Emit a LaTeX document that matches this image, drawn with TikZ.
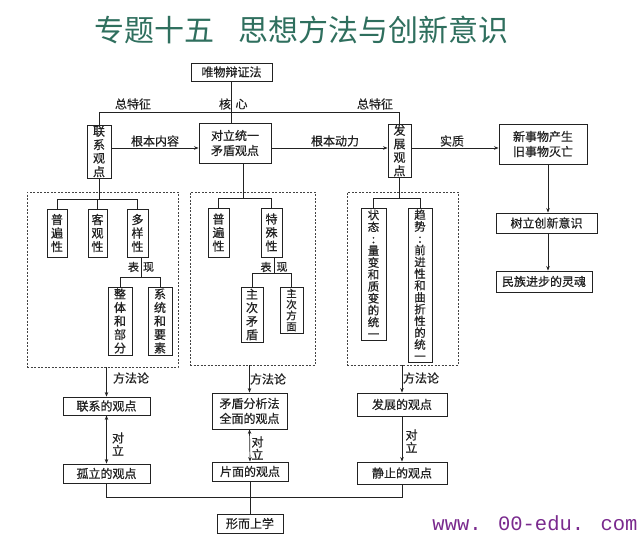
\documentclass[tikz,border=0pt]{standalone}
\usepackage{fontspec}
\newfontfamily\cjk[FakeBold=0.6]{Noto Sans CJK SC}
\newfontfamily\cjktitle{Noto Sans CJK SC}
\newfontfamily\wm{Liberation Mono}
\usetikzlibrary{arrows.meta}
\definecolor{titlegreen}{HTML}{2F6F5E}
\definecolor{wmpurple}{HTML}{7A2A8E}
\definecolor{ink}{HTML}{222222}
\begin{document}
\begin{tikzpicture}[x=1pt,y=-1pt,
  box/.style={draw=ink, line width=0.9pt, inner sep=0pt, align=center, text=ink,
              font=\cjk\fontsize{12}{15}\selectfont},
  vbox/.style={box, font=\cjk\fontsize{12}{13.5}\selectfont},
  lbl/.style={font=\cjk\fontsize{12}{13}\selectfont, text=ink, inner sep=0pt, align=center},
  conn/.style={draw=ink, line width=0.7pt},
  arr/.style={conn, -{Stealth[length=4.5pt,width=3.5pt]}},
  darr/.style={conn, {Stealth[length=4.5pt,width=3.5pt]}-{Stealth[length=4.5pt,width=3.5pt]}},
  dbox/.style={draw=ink!85, line width=0.7pt, dash pattern=on 2pt off 1.5pt, inner sep=0pt}
]
\useasboundingbox[fill=white] (0,0) rectangle (640,538);

% title
\node[font=\cjktitle\fontsize{30}{31}\selectfont, text=titlegreen, inner sep=0pt] (title) at (301.5,30)
  {专题十五\hspace{25pt}思想方法与创新意识};

% top row
\node[box, minimum width=81pt, minimum height=18pt] (fz) at (231.5,72) {唯物辩证法};
\node[vbox, minimum width=24pt, minimum height=53pt] (lx) at (99,151.5) {联\\系\\观\\点};
\node[box, minimum width=72pt, minimum height=40pt] (dl) at (235,143) {对立统一\\矛盾观点};
\node[vbox, minimum width=23pt, minimum height=53pt] (fzg) at (399.5,150.5) {发\\展\\观\\点};
\node[box, minimum width=88pt, minimum height=40pt] (xsw) at (543,144) {新事物产生\\旧事物灭亡};
\node[box, minimum width=101pt, minimum height=20pt] (sl) at (546.5,223) {树立创新意识};
\node[box, minimum width=96pt, minimum height=21pt] (mz) at (544,281.5) {民族进步的灵魂};

% top connectors
\coordinate (ztl) at (99,112);
\coordinate (ha) at (0,148);
\coordinate (xa) at (548,0);
\draw[conn] (lx.north) -- (lx.north |- ztl) -- (fzg.north |- ztl) -- (fzg.north);
\draw[conn] (fz.south) -- (fz.south |- dl.north);
\draw[arr] (lx.east |- ha) -- (dl.west |- ha);
\draw[arr] (dl.east |- ha) -- (fzg.west |- ha);
\draw[arr] (fzg.east |- ha) -- (xsw.west |- ha);
\draw[arr] (xsw.south -| xa) -- (sl.north -| xa);
\draw[arr] (sl.south -| xa) -- (mz.north -| xa);

\node[lbl] (l1) at (133,104) {总特征};
\node[lbl] (l2a) at (225,104) {核};
\node[lbl] (l2b) at (241.5,104) {心};
\node[lbl] (l3) at (375,104) {总特征};
\node[lbl] (l4) at (155,141) {根本内容};
\node[lbl] (l5) at (335,141) {根本动力};
\node[lbl] (l6) at (452,141) {实质};

% dashed groups
\node[dbox, minimum width=151pt, minimum height=175pt] (d1) at (102.5,279.5) {};
\node[dbox, minimum width=125pt, minimum height=173pt] (d2) at (252.5,278.5) {};
\node[dbox, minimum width=111pt, minimum height=173pt] (d3) at (402.5,278.5) {};

% group 1
\node[vbox, minimum width=20pt, minimum height=48pt] (pb1) at (57,233) {普\\遍\\性};
\node[vbox, minimum width=19pt, minimum height=48pt] (kg) at (97.5,233) {客\\观\\性};
\node[vbox, minimum width=21pt, minimum height=48pt] (dy) at (137.5,233) {多\\样\\性};
\node[vbox, minimum width=24pt, minimum height=68pt] (zt) at (120,321) {整\\体\\和\\部\\分};
\node[vbox, minimum width=24pt, minimum height=68pt] (xt) at (160,321) {系\\统\\和\\要\\素};
\coordinate (b1) at (99,199);
\coordinate (c1) at (141,277);
\draw[conn] (lx.south) -- (lx.south |- b1);
\draw[conn] (pb1.north) -- (pb1.north |- b1) -- (dy.north |- b1) -- (dy.north);
\draw[conn] (kg.north) -- (kg.north |- b1);
\draw[conn] (dy.south -| c1) -- (c1);
\draw[conn] (zt.north) -- (zt.north |- c1) -- (xt.north |- c1) -- (xt.north);
\node[lbl, font=\cjk\fontsize{11}{12}\selectfont] (bx1a) at (133.5,267) {表};
\node[lbl, font=\cjk\fontsize{11}{12}\selectfont] (bx1b) at (148.5,267) {现};

% group 2
\node[vbox, minimum width=21pt, minimum height=49pt] (pb2) at (218.5,232.5) {普\\遍\\性};
\node[vbox, minimum width=21pt, minimum height=49pt] (ts) at (271.5,232.5) {特\\殊\\性};
\node[vbox, minimum width=22pt, minimum height=55pt] (zc) at (252,314.5) {主\\次\\矛\\盾};
\node[vbox, minimum width=23pt, minimum height=46pt, font=\cjk\fontsize{10.5}{11}\selectfont] (zf) at (291.5,310) {主\\次\\方\\面};
\coordinate (b2) at (243,198);
\coordinate (c2) at (274,273);
\draw[conn] (dl.south -| b2) -- (b2);
\draw[conn] (pb2.north) -- (pb2.north |- b2) -- (ts.north |- b2) -- (ts.north);
\draw[conn] (ts.south -| c2) -- (c2);
\draw[conn] (zc.north) -- (zc.north |- c2) -- (zf.north |- c2) -- (zf.north);
\node[lbl, font=\cjk\fontsize{11}{12}\selectfont] (bx2a) at (266,267) {表};
\node[lbl, font=\cjk\fontsize{11}{12}\selectfont] (bx2b) at (282,267) {现};

% group 3
\node[vbox, minimum width=25pt, minimum height=132pt, font=\cjk\fontsize{11.5}{11.9}\selectfont] (zta) at (373.5,274)
  {状\\态\\:\\量\\变\\和\\质\\变\\的\\统\\一};
\node[vbox, minimum width=24pt, minimum height=154pt, font=\cjk\fontsize{11.5}{11.8}\selectfont] (qs) at (420,285)
  {趋\\势\\:\\前\\进\\性\\和\\曲\\折\\性\\的\\统\\一};
\coordinate (b3) at (399.5,198);
\draw[conn] (fzg.south) -- (b3);
\draw[conn] (zta.north) -- (zta.north |- b3) -- (qs.north |- b3) -- (qs.north);

% bottom boxes
\node[box, minimum width=87pt, minimum height=18pt] (lg) at (106.5,406) {联系的观点};
\node[box, minimum width=87pt, minimum height=19pt] (gl) at (106.5,473.5) {孤立的观点};
\node[box, minimum width=75pt, minimum height=36pt] (mf) at (249.5,411) {矛盾分析法\\全面的观点};
\node[box, minimum width=76pt, minimum height=19pt] (pm) at (250,471.5) {片面的观点};
\node[box, minimum width=66pt, minimum height=19pt] (xs) at (250,523.5) {形而上学};
\node[box, minimum width=90pt, minimum height=23pt] (fg) at (402,404.5) {发展的观点};
\node[box, minimum width=90pt, minimum height=22pt] (jz) at (402,473) {静止的观点};

\draw[arr] (lg.north |- d1.south) -- (lg.north);
\draw[arr] (mf.north |- d2.south) -- (mf.north);
\draw[arr] (fg.north |- d3.south) -- (fg.north);
\draw[darr] (lg.south) -- (gl.north);
\draw[darr] (mf.south) -- (pm.north);
\draw[arr] (fg.south) -- (jz.north);

\coordinate (bl) at (0,497);
\draw[conn] (gl.south) -- (gl.south |- bl) -- (jz.south |- bl) -- (jz.south);
\draw[conn] (pm.south) -- (xs.north);

\node[lbl] (m1) at (131,378) {方法论};
\node[lbl] (m2) at (268,379) {方法论};
\node[lbl] (m3) at (421,378) {方法论};
\node[lbl, font=\cjk\fontsize{12}{12.5}\selectfont] (o1) at (118,444) {对\\立};
\node[lbl, font=\cjk\fontsize{12}{12.5}\selectfont] (o2) at (257.5,448) {对\\立};
\node[lbl, font=\cjk\fontsize{12}{12.5}\selectfont] (o3) at (411.5,441) {对\\立};

% watermark
\node[font=\wm\fontsize{20.5}{22}\selectfont, text=wmpurple, inner sep=0pt] (wm) at (535,523) {www. 00-edu. com};
\end{tikzpicture}
\end{document}
